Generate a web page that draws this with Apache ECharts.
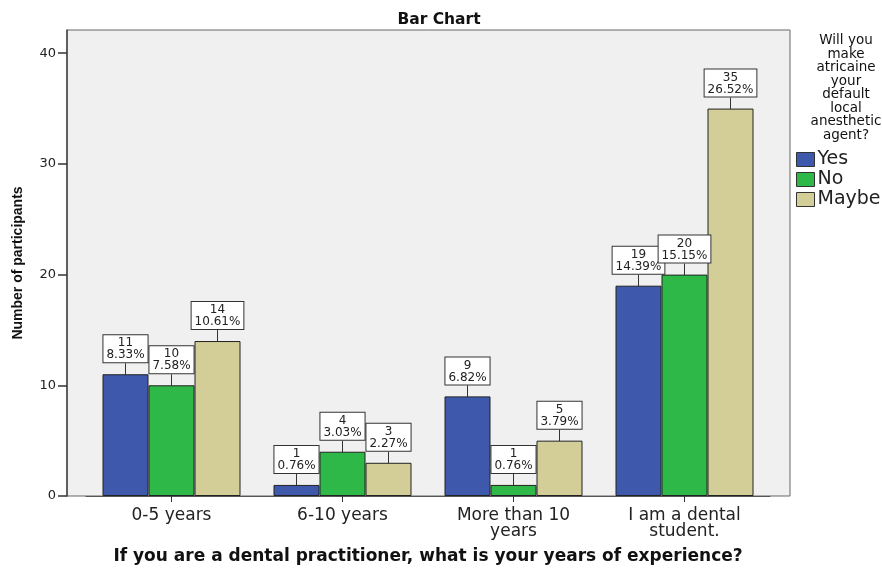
<!DOCTYPE html>
<html>
<head>
<meta charset="utf-8">
<script src="https://cdn.jsdelivr.net/npm/echarts@6/dist/echarts.min.js"></script>
<style>html,body{margin:0;padding:0;background:#fff;}#c{width:882px;height:569px;}</style>
</head>
<body>
<div id="c"></div>
<script>
const categories = ["0-5 years", "6-10 years", "More than 10\nyears", "I am a dental\nstudent."];
const seriesNames = ["Yes", "No", "Maybe"];
const yesValues = [11, 1, 9, 19];
const noValues = [10, 4, 1, 20];
const maybeValues = [14, 3, 5, 35];
const yesPct = ["8.33%", "0.76%", "6.82%", "14.39%"];
const noPct = ["7.58%", "3.03%", "0.76%", "15.15%"];
const maybePct = ["10.61%", "2.27%", "3.79%", "26.52%"];
const yTicks = [0, 10, 20, 30, 40];
const legendTitle = "Will you\nmake\natricaine\nyour\ndefault\nlocal\nanesthetic\nagent?";

const colors = ["#3E58AC", "#2EB848", "#D3CE97"];
const FONT = "Liberation Sans, Arial, sans-serif";
const WIDE = "DejaVu Sans, Liberation Sans, sans-serif";
const values = [yesValues, noValues, maybeValues];
const pcts = [yesPct, noPct, maybePct];

const chart = echarts.init(document.getElementById('c'));

const series = seriesNames.map((name, si) => ({
  name: name,
  type: 'bar',
  xAxisIndex: 1,
  yAxisIndex: 1,
  data: values[si],
  barWidth: 46,
  barGap: '0%',
  itemStyle: { color: colors[si], borderColor: '#222', borderWidth: 1 },
  label: {
    show: true,
    position: 'top',
    distance: 0,
    formatter: p => p.value + '\n' + pcts[si][p.dataIndex],
    fontFamily: WIDE,
    fontSize: 12,
    lineHeight: 12,
    color: '#222',
    align: 'center',
    backgroundColor: '#fff',
    borderColor: '#333',
    borderWidth: 1,
    padding: [2, 3, 1, 3]
  },
  labelLayout: { dy: -12 },
  labelLine: { show: true, lineStyle: { color: '#333', width: 1 } }
}));

chart.setOption({
  animation: false,
  backgroundColor: '#fff',
  title: [
    { text: 'Bar Chart', left: 434, top: 7, textAlign: 'center',
      textStyle: { fontFamily: WIDE, fontSize: 15.5, fontWeight: 'bold', color: '#111' } },
    { text: legendTitle, left: 841, top: 29, textAlign: 'center',
      textStyle: { fontFamily: WIDE, fontSize: 13.5, fontWeight: 'normal', color: '#111', lineHeight: 13.5 } }
  ],
  legend: {
    orient: 'vertical',
    left: 791,
    top: 145,
    itemWidth: 18,
    itemHeight: 14,
    itemGap: 1,
    icon: 'rect',
    data: seriesNames,
    textStyle: { fontFamily: WIDE, fontSize: 19, lineHeight: 14, color: '#222', padding: [0, 0, 0, -2] },
    itemStyle: { borderColor: '#333', borderWidth: 1 }
  },
  grid: [
    { left: 67, right: 92, top: 30, bottom: 73, show: true, backgroundColor: '#F0F0F0',
      borderColor: '#666', borderWidth: 1, containLabel: false, outerBoundsMode: 'none', z: 0 },
    { left: 86, width: 684, top: 30, bottom: 73, containLabel: false, outerBoundsMode: 'none' }
  ],
  xAxis: [
    { type: 'value', gridIndex: 0, show: false, min: 0, max: 1 },
    { type: 'category', gridIndex: 1, data: categories,
      name: 'If you are a dental practitioner, what is your years of experience?',
      nameLocation: 'middle', nameGap: 52,
      nameTextStyle: { fontFamily: WIDE, fontSize: 17, fontWeight: 'bold', color: '#111' },
      axisLine: { show: true, lineStyle: { color: '#555', width: 1 } },
      axisTick: { show: true, alignWithLabel: true, length: 6, lineStyle: { color: '#333' } },
      axisLabel: { fontFamily: WIDE, fontSize: 17, color: '#222', margin: 12, lineHeight: 16 }
    }
  ],
  yAxis: [
    { type: 'value', gridIndex: 0, show: false, min: 0, max: 1 },
    { type: 'value', gridIndex: 1, min: 0, max: 42.1, offset: 19,
      name: 'Number of participants', nameLocation: 'middle', nameGap: 42, nameRotate: 90,
      nameTextStyle: { fontFamily: FONT, fontSize: 14, fontWeight: 'bold', color: '#111' },
      splitLine: { show: false },
      axisLine: { show: true, lineStyle: { color: '#444', width: 1.5 } },
      axisTick: { show: true, length: 9, customValues: yTicks, lineStyle: { color: '#333', width: 1.5 } },
      axisLabel: { fontFamily: WIDE, fontSize: 13, color: '#222', margin: 11, customValues: yTicks }
    }
  ],
  series: series
});
</script>
</body>
</html>
